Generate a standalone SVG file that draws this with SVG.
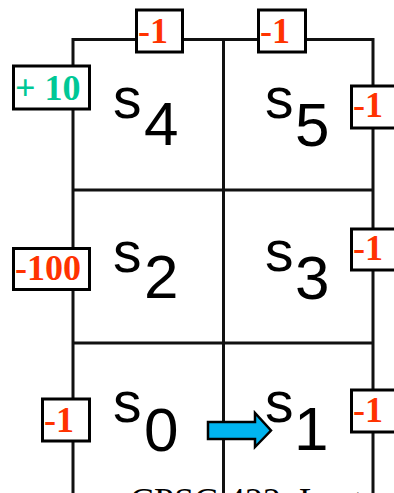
<svg xmlns="http://www.w3.org/2000/svg" width="394" height="493" viewBox="0 0 394 493">
<style>
.grid{stroke:#111;stroke-width:3;fill:none}
.box{fill:#fff;stroke:#000;stroke-width:3}
.rew{font-family:"Liberation Serif",serif;font-weight:bold;font-size:36px;fill:#FF3300}
.pos{fill:#00C896}
.st{font-family:"Liberation Sans",Arial,sans-serif;font-size:57px;fill:#000}
.sub{font-size:62px}
.foot{font-family:"Liberation Serif",serif;font-size:36px;fill:#000}
</style>
<rect width="394" height="493" fill="#fff"/>
<text class="foot" x="130" y="513">CPSC 422, Lect</text>
<g id="grid">
<path class="grid" d="M73,39.5 H373 M73,190 H373 M73,343 H373 M73,38 V493 M223.5,39 V493 M373,38 V493"/>
</g>
<g id="s4"><text class="st" x="113" y="118">s<tspan class="sub" x="144" y="145">4</tspan></text></g>
<g id="s5"><text class="st" x="265" y="118">s<tspan class="sub" x="295" y="146">5</tspan></text></g>
<g id="s2"><text class="st" x="113" y="272">s<tspan class="sub" x="144" y="298">2</tspan></text></g>
<g id="s3"><text class="st" x="265" y="271">s<tspan class="sub" x="295" y="299">3</tspan></text></g>
<g id="s0"><text class="st" x="113" y="422">s<tspan class="sub" x="144" y="451">0</tspan></text></g>
<g id="s1"><text class="st" x="265" y="422">s<tspan class="sub" x="294" y="450">1</tspan></text></g>
<g id="rewards">
<g id="r-top-s4"><rect class="box" x="136.5" y="10" width="46" height="42"/><text class="rew" x="138" y="43">-1</text></g>
<g id="r-top-s5"><rect class="box" x="258.5" y="10" width="47" height="42"/><text class="rew" x="260" y="43">-1</text></g>
<g id="r-left-s4"><rect class="box" x="13.5" y="66" width="76" height="43"/><text class="rew pos" x="15" y="100">+ 10</text></g>
<g id="r-right-s5"><rect class="box" x="351.5" y="86" width="44" height="42"/><text class="rew" x="353" y="117">-1</text></g>
<g id="r-left-s2"><rect class="box" x="13.5" y="248.5" width="76" height="41"/><text class="rew" x="15" y="280">-100</text></g>
<g id="r-right-s3"><rect class="box" x="351.5" y="229" width="44" height="41"/><text class="rew" x="353" y="260">-1</text></g>
<g id="r-left-s0"><rect class="box" x="42.5" y="399" width="47" height="42"/><text class="rew" x="44" y="432">-1</text></g>
<g id="r-right-s1"><rect class="box" x="351.5" y="390" width="44" height="42"/><text class="rew" x="353" y="422">-1</text></g>
</g>
<g id="connectors">
<polygon points="208,422 255,422 255,413 271,430.5 255,447 255,439 208,439" fill="#00B4F0" stroke="#000" stroke-width="2.5" stroke-linejoin="miter"/>
</g>
</svg>
